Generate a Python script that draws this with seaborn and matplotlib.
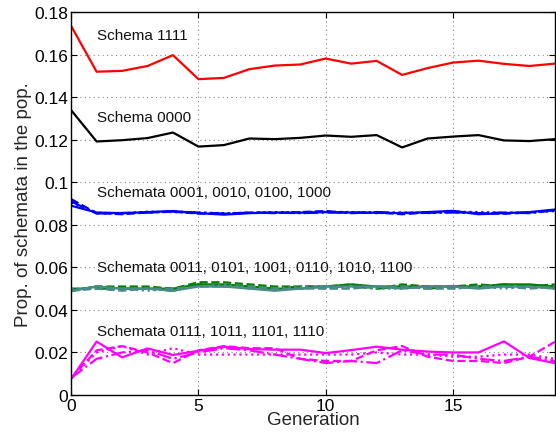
import matplotlib
matplotlib.use("Agg")
import matplotlib.pyplot as plt
import seaborn as sns
import numpy as np
import pandas as pd

generations = list(range(20))

schema_1111 = [0.1735, 0.1520, 0.1524, 0.1547, 0.1598, 0.1485, 0.1491, 0.1532, 0.1549, 0.1554,
               0.1582, 0.1558, 0.1571, 0.1505, 0.1537, 0.1563, 0.1572, 0.1557, 0.1547, 0.1558]
schema_0000 = [0.1339, 0.1192, 0.1198, 0.1208, 0.1234, 0.1168, 0.1175, 0.1206, 0.1203, 0.1209,
               0.1220, 0.1214, 0.1222, 0.1164, 0.1206, 0.1215, 0.1222, 0.1197, 0.1194, 0.1203]

blue_solid = [0.0890, 0.0858, 0.0855, 0.0860, 0.0865, 0.0855, 0.0848, 0.0855, 0.0858, 0.0857,
              0.0860, 0.0858, 0.0857, 0.0855, 0.0860, 0.0866, 0.0850, 0.0855, 0.0860, 0.0872]
blue_dashed = [0.0921, 0.0855, 0.0850, 0.0858, 0.0862, 0.0853, 0.0852, 0.0858, 0.0855, 0.0860,
               0.0865, 0.0855, 0.0858, 0.0850, 0.0858, 0.0860, 0.0855, 0.0852, 0.0858, 0.0868]
blue_dotted = [0.0905, 0.0857, 0.0853, 0.0862, 0.0860, 0.0857, 0.0855, 0.0856, 0.0860, 0.0858,
               0.0862, 0.0860, 0.0855, 0.0858, 0.0855, 0.0862, 0.0860, 0.0856, 0.0857, 0.0865]
blue_dashdot = [0.0910, 0.0853, 0.0856, 0.0857, 0.0863, 0.0858, 0.0853, 0.0857, 0.0857, 0.0855,
                0.0858, 0.0857, 0.0860, 0.0856, 0.0857, 0.0858, 0.0855, 0.0858, 0.0855, 0.0870]

green_solid = [0.049, 0.051, 0.050, 0.050, 0.050, 0.052, 0.052, 0.051, 0.050, 0.050,
               0.051, 0.052, 0.051, 0.051, 0.051, 0.051, 0.051, 0.052, 0.052, 0.051]
green_dashed = [0.049, 0.051, 0.051, 0.051, 0.050, 0.053, 0.053, 0.052, 0.051, 0.051,
                0.051, 0.052, 0.050, 0.052, 0.051, 0.051, 0.052, 0.051, 0.051, 0.052]
green_dashdot = [0.050, 0.050, 0.050, 0.050, 0.049, 0.052, 0.051, 0.051, 0.050, 0.051,
                 0.051, 0.051, 0.050, 0.051, 0.050, 0.051, 0.051, 0.052, 0.051, 0.051]
teal_solid = [0.049, 0.051, 0.050, 0.050, 0.049, 0.051, 0.051, 0.050, 0.049, 0.050,
              0.051, 0.051, 0.051, 0.050, 0.051, 0.051, 0.050, 0.051, 0.051, 0.050]
teal_dashed = [0.049, 0.050, 0.049, 0.050, 0.050, 0.051, 0.051, 0.051, 0.050, 0.050,
               0.050, 0.050, 0.051, 0.051, 0.050, 0.050, 0.051, 0.051, 0.050, 0.051]
teal_dotted = [0.050, 0.050, 0.050, 0.049, 0.050, 0.051, 0.052, 0.050, 0.050, 0.051,
               0.050, 0.051, 0.050, 0.050, 0.051, 0.050, 0.051, 0.050, 0.051, 0.050]

magenta_solid = [0.0075, 0.0251, 0.0177, 0.0219, 0.0188, 0.0208, 0.0227, 0.0216, 0.0213, 0.0213,
                 0.0197, 0.0211, 0.0227, 0.0213, 0.0204, 0.0200, 0.0200, 0.0252, 0.0174, 0.0150]
magenta_dashed = [0.008, 0.021, 0.023, 0.020, 0.015, 0.021, 0.023, 0.022, 0.022, 0.017,
                  0.016, 0.016, 0.021, 0.023, 0.018, 0.016, 0.016, 0.015, 0.018, 0.025]
magenta_dashdot = [0.008, 0.017, 0.020, 0.021, 0.017, 0.020, 0.022, 0.021, 0.019, 0.017,
                   0.015, 0.016, 0.015, 0.021, 0.019, 0.019, 0.017, 0.016, 0.018, 0.016]
magenta_dotted = [0.008, 0.020, 0.023, 0.019, 0.022, 0.019, 0.019, 0.019, 0.019, 0.019,
                  0.019, 0.019, 0.020, 0.019, 0.019, 0.018, 0.018, 0.019, 0.019, 0.017]

yticks = [0, 0.02, 0.04, 0.06, 0.08, 0.1, 0.12, 0.14, 0.16, 0.18]
ytick_labels = ["0", "0.02", "0.04", "0.06", "0.08", "0.1", "0.12", "0.14", "0.16", "0.18"]
xticks = [0, 5, 10, 15]

labels = ["Schema 1111", "Schema 0000", "Schemata 0001, 0010, 0100, 1000",
          "Schemata 0011, 0101, 1001, 0110, 1010, 1100", "Schemata 0111, 1011, 1101, 1110"]
label_y = [0.1695, 0.1305, 0.0955, 0.0600, 0.0300]

sns.set_theme(style="white")
plt.rcParams['font.family'] = ['Liberation Sans', 'DejaVu Sans']

fig = plt.figure(figsize=(5.56, 4.35), dpi=100)
ax = fig.add_axes([0.128, 0.0897, 0.870, 0.880])

RED, BLACK, BLUE, GREEN, TEAL, MAG = "#ff0000", "#000000", "#0000ff", "#008000", "#4a8a8a", "#ff00ff"
series = [
    (schema_1111, RED, "-"), (schema_0000, BLACK, "-"),
    (blue_solid, BLUE, "-"), (blue_dashed, BLUE, "--"), (blue_dotted, BLUE, ":"), (blue_dashdot, BLUE, "-."),
    (green_solid, GREEN, "-"), (green_dashed, GREEN, "--"), (green_dashdot, GREEN, "-."),
    (teal_solid, TEAL, "-"), (teal_dashed, TEAL, "--"), (teal_dotted, TEAL, ":"),
    (magenta_solid, MAG, "-"), (magenta_dashed, MAG, "--"), (magenta_dashdot, MAG, "-."), (magenta_dotted, MAG, ":"),
]
for vals, col, ls in series:
    sns.lineplot(x=generations, y=vals, color=col, linestyle=ls, linewidth=1.6, ax=ax)

ax.set_xlim(0, 19)
ax.set_ylim(0, 0.18)
ax.set_xticks(xticks)
ax.set_xticklabels([str(t) for t in xticks])
ax.set_yticks(yticks)
ax.set_yticklabels(ytick_labels)
ax.grid(True, linestyle=(0, (1, 3)), color="#888888", linewidth=0.8)
for s in ax.spines.values():
    s.set_visible(True)
    s.set_color("black")
    s.set_linewidth(1.0)
ax.tick_params(direction="in", length=4, width=0.8, labelsize=12.5, colors="black",
               top=True, right=True, bottom=True, left=True, pad=2)
ax.set_xlabel("Generation", fontsize=13.5, labelpad=-1)
ax.set_ylabel("Prop. of schemata in the pop.", fontsize=13.5, labelpad=2)

for lab, y in zip(labels, label_y):
    ax.text(1.0, y, lab, fontsize=11, color="#111111", va="center", ha="left")

fig.savefig("out.png", dpi=100)
